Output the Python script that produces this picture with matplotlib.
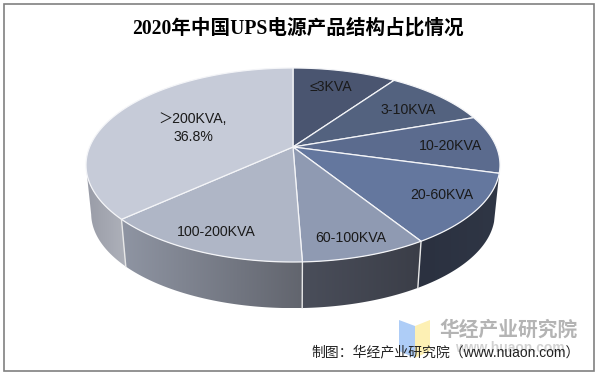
import numpy as np
import matplotlib
matplotlib.use('Agg')
import matplotlib.pyplot as plt
from matplotlib.patches import Polygon, Rectangle
from matplotlib.colors import LinearSegmentedColormap

# shares in percent, clockwise from 12 o'clock (only the last one is printed on the chart)
categories = ['≤3KVA', '3-10KVA', '10-20KVA', '20-60KVA', '60-100KVA', '100-200KVA', '＞200KVA,\n36.8%']
shares = [9.7, 9.9, 9.7, 11.8, 8.3, 13.8, 36.8]

top_colors = ['#4a5570', '#53627f', '#5b6b8e', '#64779e', '#8f9ab2', '#afb6c6', '#c6cbd8']
wall_left = [None, None, None, '#2b3140', '#4a4e5a', '#8f95a3', '#999ca7']
wall_right = [None, None, None, '#2f3645', '#3b3e48', '#62656e', '#aeb1ba']
label_xy = [(331, 87), (408, 110), (451, 146), (442, 195), (351, 238), (216, 232), (193, 128)]

# projection of the disc, in pixels
hub_x, hub_y = 293, 147
scale_x, scale_y, persp = 203.4, 93.66, 0.1856
depth, shrink = 49, 0.975


def project(ang):
    # ang is clockwise from top, radians
    X, Y = np.sin(ang), -np.cos(ang)
    w = 1 - persp * Y
    return hub_x + scale_x * X / w, hub_y + scale_y * Y / w


def lower_rim(x, y):
    return hub_x + shrink * (x - hub_x), hub_y + depth + shrink * (y - hub_y)


fig = plt.figure(figsize=(5.98, 3.75), dpi=100)
ax = fig.add_axes([0, 0, 1, 1])
ax.set_xlim(0, 598)
ax.set_ylim(375, 0)
ax.axis('off')

ax.add_patch(Rectangle((3.5, 3.5), 590, 367, fc='white', ec='#808080', lw=1.2))

edges = np.cumsum([0] + shares) / 100 * 2 * np.pi

# side wall, only the part facing the viewer
for i in range(len(shares)):
    if wall_left[i] is None:
        continue
    t = np.linspace(edges[i], edges[i + 1], 120)
    x, y = project(t)
    keep = y > 165
    x, y = x[keep], y[keep]
    bx, by = lower_rim(x, y)
    pts = np.column_stack([np.r_[x, bx[::-1]], np.r_[y, by[::-1]]])
    poly = Polygon(pts, closed=True, fc='none', ec='none')
    ax.add_patch(poly)
    cmap = LinearSegmentedColormap.from_list('w', [wall_left[i], wall_right[i]])
    im = ax.imshow(np.linspace(0, 1, 128).reshape(1, -1), cmap=cmap, aspect='auto',
                   extent=(pts[:, 0].min(), pts[:, 0].max(), pts[:, 1].max(), pts[:, 1].min()), zorder=2)
    im.set_clip_path(poly)
    if i > 3:
        ax.plot([x[0], bx[0]], [y[0], by[0]], color='#e8e8e8', lw=1.0, zorder=3)

ax.set_xlim(0, 598)
ax.set_ylim(375, 0)

# top face
for i in range(len(shares)):
    t = np.linspace(edges[i], edges[i + 1], 80)
    x, y = project(t)
    pts = np.column_stack([np.r_[hub_x, x], np.r_[hub_y, y]])
    ax.add_patch(Polygon(pts, closed=True, fc=top_colors[i], ec='#f4f5f8', lw=0.9, zorder=4))

label_font = ['Liberation Sans', 'Noto Sans CJK SC']
for name, (lx, ly) in zip(categories, label_xy):
    ax.text(lx, ly, name, family=label_font, fontsize=10.2, color='#1a1a1a',
            ha='center', va='center', linespacing=1.3, zorder=6)

ax.text(298, 28, '2020年中国UPS电源产品结构占比情况', family=['Liberation Serif', 'Noto Sans CJK SC'],
        fontsize=14.1, fontweight='bold', color='black', ha='center', va='center', zorder=6)

# watermark logo and source line
ax.add_patch(Polygon([(399, 320), (415, 326), (415, 358), (399, 351)], closed=True, fc='#aecdf7', ec='none', zorder=5))
ax.add_patch(Polygon([(415, 326), (430, 320), (430, 351), (415, 358)], closed=True, fc='#fdf0b4', ec='none', zorder=5))
ax.text(509, 330, '华经产业研究院', family='Noto Sans CJK SC', fontsize=14.2, fontweight='bold',
        color='#b4b4b4', ha='center', va='center', zorder=5)
ax.text(510, 348, 'www.huaon.com', family='Liberation Sans', fontsize=10, fontweight='bold',
        color='#d2d2d2', ha='center', va='center', zorder=5)
ax.text(311, 352, '制图：华经产业研究院（www.nuaon.com）', family=label_font,
        fontsize=10, color='#222222', ha='left', va='center', zorder=6)

fig.savefig('out.png', dpi=100)
